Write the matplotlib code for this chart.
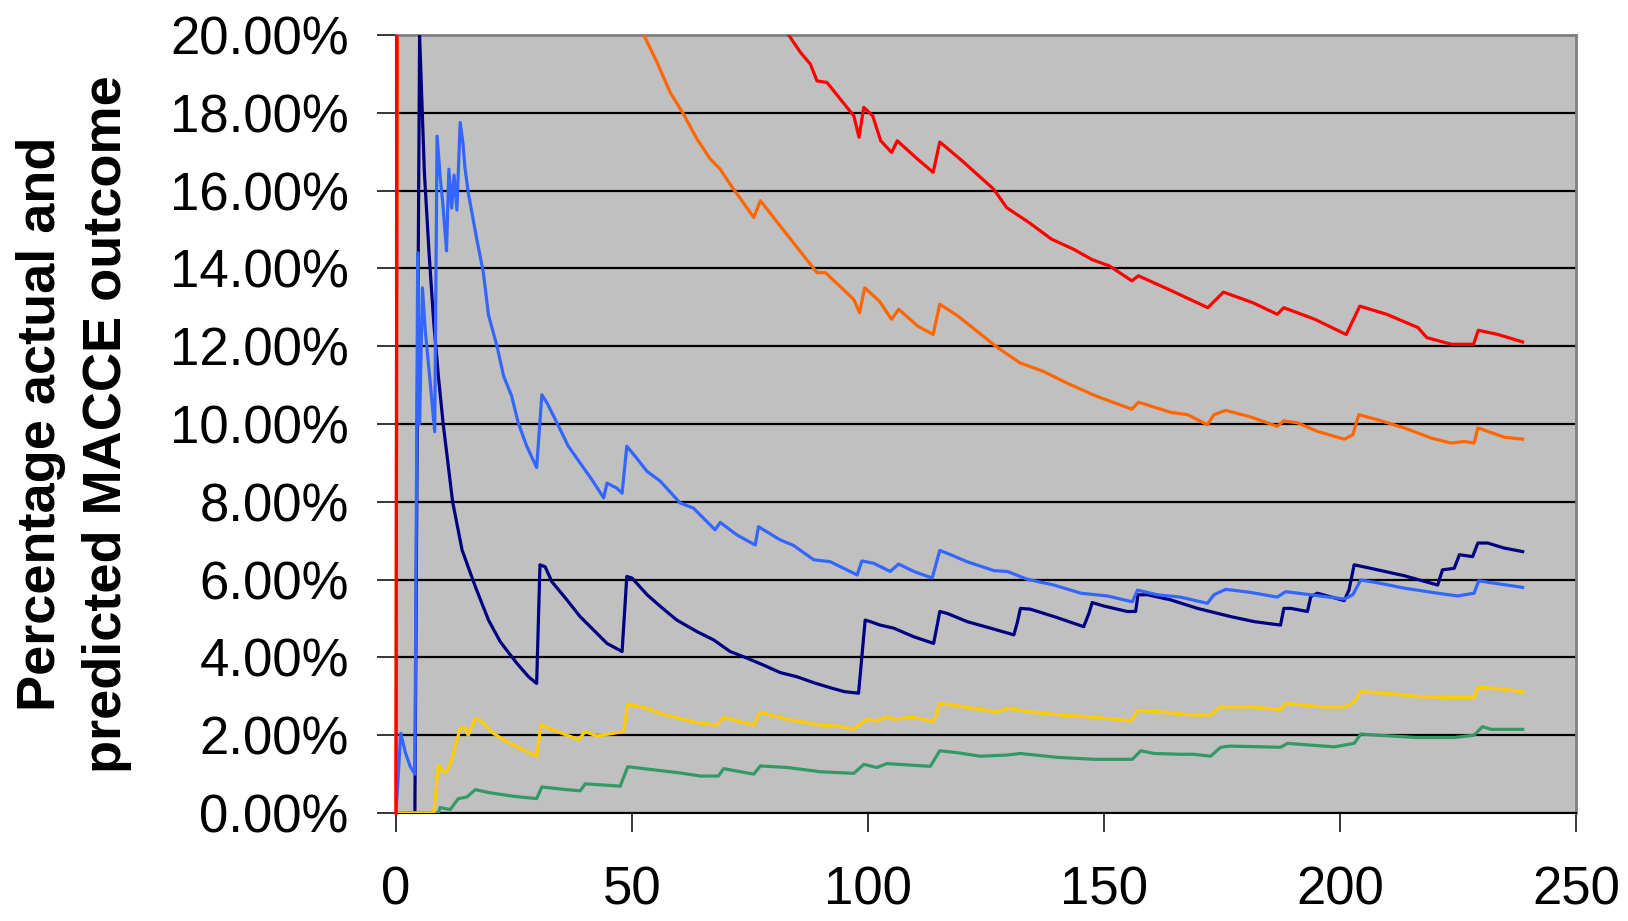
import numpy as np
import matplotlib
matplotlib.use("Agg")
import matplotlib.pyplot as plt
from matplotlib.ticker import FuncFormatter
from matplotlib.patches import Rectangle

plt.rcParams['font.family'] = ['Liberation Sans', 'DejaVu Sans']

# Cumulative number of procedures (x) and percentage MACCE (y) for each series
red_x = [0, 1, 3, 8, 15, 25, 40, 55, 70, 83.2, 85.7, 87.8, 89.2, 91.3, 97.0, 98.1, 99.1, 101.0,
         102.7, 105.0, 106.2, 110.5, 113.8, 115.2, 119.9, 126.6, 129.4, 134.1, 138.9, 143.6, 147.4,
         151.2, 155.9, 157.3, 164.4, 172.0, 175.3, 181.5, 186.7, 188.1, 194.7, 201.3, 204.2, 209.9,
         216.5, 218.4, 223.6, 228.3, 229.3, 233.5, 238.7]
red_y = [0, 100, 55, 40, 33, 28.5, 25, 22.8, 21.2, 20.0, 19.55, 19.25, 18.82, 18.78, 17.92, 17.37,
         18.14, 17.92, 17.28, 16.98, 17.28, 16.81, 16.47, 17.25, 16.77, 16.04, 15.56, 15.18, 14.75,
         14.49, 14.23, 14.06, 13.68, 13.81, 13.42, 12.99, 13.39, 13.12, 12.82, 12.99, 12.69, 12.30,
         13.03, 12.82, 12.48, 12.22, 12.05, 12.05, 12.41, 12.30, 12.11]

orange_x = [0, 1, 3, 8, 15, 25, 35, 45, 52.5, 55.3, 58.1, 60.9, 63.8, 66.6, 68.7, 70.8, 75.8, 77.2,
            81.4, 89.2, 91.0, 97.0, 98.2, 99.3, 102.4, 105.0, 106.5, 110.5, 113.8, 115.2, 119.0,
            127.5, 132.2, 137.0, 142.7, 148.3, 155.9, 157.3, 164.1, 167.7, 171.9, 173.3, 175.8,
            181.1, 186.7, 188.1, 191.0, 195.2, 200.9, 202.7, 204.0, 207.9, 213.6, 219.3, 223.5,
            226.3, 228.4, 229.2, 232.0, 234.8, 238.7]
orange_y = [0, 80, 45, 32, 27, 24, 22.4, 21.1, 20.0, 19.30, 18.52, 17.97, 17.32, 16.81, 16.55, 16.16,
            15.31, 15.74, 15.09, 13.89, 13.89, 13.20, 12.86, 13.50, 13.16, 12.69, 12.95, 12.52,
            12.30, 13.08, 12.78, 11.96, 11.57, 11.36, 11.02, 10.72, 10.38, 10.56, 10.30, 10.24,
            9.98, 10.24, 10.35, 10.18, 9.94, 10.08, 10.03, 9.81, 9.61, 9.72, 10.24, 10.11, 9.90,
            9.64, 9.51, 9.55, 9.51, 9.90, 9.78, 9.66, 9.61]

navy_x = [0, 4, 5, 6, 7, 8, 9, 10, 11, 12, 14, 16.8, 19.6, 22.1, 25.6, 28.1, 29.8, 30.5, 31.6, 33.0,
          36.2, 39.0, 44.7, 47.9, 48.9, 50.0, 53.2, 56.3, 59.5, 63.8, 67.3, 70.8, 74.4, 77.9, 81.4,
          85.0, 88.5, 92.3, 95.0, 98.0, 98.7, 99.4, 100.5, 102.6, 105.5, 109.7, 113.9, 114.6,
          115.2, 116.8, 121.0, 126.0, 130.9, 131.6, 132.3, 134.4, 139.4, 145.7, 146.8, 147.5,
          150.0, 154.9, 156.7, 157.2, 159.2, 164.1, 169.8, 176.8, 181.8, 187.4, 188.1, 189.6,
          193.1, 193.8, 195.2, 200.9, 201.9, 203.0, 206.5, 213.6, 220.7, 221.7, 224.2, 225.3,
          228.1, 229.2, 231.3, 234.8, 238.7]
navy_y = [0, 0, 20.0, 16.5, 14.4, 12.6, 11.2, 10.0, 9.0, 8.0, 6.76, 5.82, 4.96, 4.40, 3.85, 3.50,
          3.33, 6.38, 6.33, 5.95, 5.48, 5.05, 4.36, 4.15, 6.08, 6.04, 5.61, 5.28, 4.96, 4.66, 4.45,
          4.15, 3.98, 3.80, 3.61, 3.50, 3.35, 3.21, 3.12, 3.08, 4.02, 4.96, 4.92, 4.83, 4.75, 4.53,
          4.36, 4.79, 5.18, 5.13, 4.92, 4.75, 4.58, 4.88, 5.26, 5.24, 5.05, 4.79, 5.13, 5.41, 5.32,
          5.18, 5.18, 5.61, 5.61, 5.48, 5.26, 5.05, 4.92, 4.83, 5.26, 5.26, 5.18, 5.56, 5.65, 5.46,
          5.73, 6.38, 6.29, 6.10, 5.86, 6.25, 6.29, 6.64, 6.59, 6.94, 6.94, 6.81, 6.72]

blue_x = [0, 1, 2, 3, 4, 4.6, 5.0, 5.6, 6.2, 7.3, 8.2, 8.7, 9.4, 9.9, 10.7, 11.2, 11.8, 12.3, 12.9,
          13.6, 14.2, 14.6, 15.3, 17.1, 18.5, 19.6, 21.4, 22.8, 24.5, 25.9, 27.7, 29.8, 30.9, 32.0,
          34.1, 36.5, 39.0, 41.5, 44.0, 44.7, 46.8, 47.9, 48.9, 51.0, 53.2, 56.0, 60.2, 63.0, 67.6,
          68.7, 72.2, 76.1, 76.8, 81.4, 84.2, 88.5, 92.0, 97.7, 98.7, 101.2, 104.7, 106.5, 109.7,
          113.6, 115.2, 117.5, 121.0, 126.7, 129.5, 133.7, 139.4, 145.1, 150.7, 156.0, 157.1,
          161.3, 166.2, 171.9, 173.3, 175.8, 181.1, 186.7, 188.5, 193.8, 200.9, 202.7, 204.4,
          207.9, 213.6, 220.7, 224.9, 228.4, 229.4, 232.0, 238.7]
blue_y = [0, 2.05, 1.55, 1.2, 1.0, 14.4, 10.0, 13.5, 12.4, 11.0, 9.8, 17.4, 16.3, 15.7, 14.45, 16.55,
          15.55, 16.4, 15.5, 17.75, 17.2, 16.6, 15.95, 14.76, 13.9, 12.8, 12.0, 11.23, 10.72, 10.03,
          9.43, 8.88, 10.75, 10.54, 10.03, 9.43, 9.0, 8.57, 8.10, 8.48, 8.35, 8.22, 9.43, 9.12,
          8.78, 8.53, 7.97, 7.84, 7.28, 7.47, 7.15, 6.89, 7.36, 7.02, 6.88, 6.51, 6.46, 6.12, 6.48,
          6.42, 6.21, 6.40, 6.21, 6.04, 6.75, 6.64, 6.46, 6.23, 6.21, 6.01, 5.86, 5.65, 5.58, 5.43,
          5.73, 5.61, 5.55, 5.39, 5.61, 5.75, 5.67, 5.55, 5.69, 5.61, 5.50, 5.61, 5.99, 5.92, 5.78,
          5.65, 5.58, 5.65, 5.97, 5.92, 5.80]

yellow_x = [0, 8, 9, 10, 10.8, 11.8, 13.6, 14.5, 15.3, 16.8, 17.8, 20.6, 23.5, 27.0, 29.8, 30.7,
            33.4, 36.2, 38.7, 40.1, 42.6, 46.1, 48.2, 49.1, 53.2, 56.0, 60.2, 63.8, 68.0, 69.4,
            75.8, 77.2, 82.9, 89.9, 94.1, 96.9, 99.8, 101.9, 104.0, 105.5, 109.7, 113.9, 115.2,
            118.2, 123.8, 127.4, 129.8, 134.4, 140.8, 147.9, 155.7, 157.1, 162.1, 168.4, 172.6,
            174.7, 181.1, 187.4, 188.5, 195.9, 201.2, 203.0, 204.4, 209.4, 217.1, 222.8, 228.4,
            229.2, 233.4, 238.7]
yellow_y = [0, 0, 1.23, 1.06, 1.06, 1.36, 2.18, 2.2, 2.0, 2.43, 2.39, 2.05, 1.83, 1.62, 1.46, 2.26,
            2.13, 2.0, 1.89, 2.09, 1.98, 2.05, 2.09, 2.80, 2.69, 2.56, 2.43, 2.32, 2.26, 2.46, 2.26,
            2.59, 2.41, 2.26, 2.23, 2.15, 2.41, 2.37, 2.47, 2.41, 2.46, 2.35, 2.82, 2.77, 2.66,
            2.60, 2.69, 2.60, 2.52, 2.46, 2.37, 2.63, 2.60, 2.52, 2.52, 2.73, 2.73, 2.66, 2.82,
            2.73, 2.73, 2.86, 3.12, 3.08, 2.99, 2.97, 2.97, 3.23, 3.20, 3.12]

green_x = [0, 9, 9.3, 11.5, 13.2, 15.0, 16.8, 19.9, 24.9, 29.8, 30.9, 36.2, 39.0, 40.1, 47.5, 49.1,
           55.3, 60.2, 64.5, 68.3, 69.4, 75.8, 77.2, 82.9, 89.9, 97.0, 99.1, 101.9, 104.0, 113.2,
           115.2, 118.9, 123.8, 129.5, 132.3, 140.1, 147.9, 156.0, 157.8, 160.6, 166.2, 169.0,
           172.6, 174.7, 176.8, 187.4, 188.9, 198.8, 203.0, 204.4, 207.9, 216.4, 224.2, 228.4,
           230.2, 232.0, 238.7]
green_y = [0, 0, 0.14, 0.09, 0.37, 0.41, 0.60, 0.52, 0.43, 0.37, 0.67, 0.60, 0.57, 0.75, 0.69, 1.19,
           1.10, 1.03, 0.95, 0.95, 1.14, 1.0, 1.21, 1.17, 1.06, 1.02, 1.25, 1.17, 1.27, 1.20, 1.60,
           1.55, 1.46, 1.49, 1.53, 1.43, 1.38, 1.38, 1.60, 1.53, 1.51, 1.51, 1.46, 1.69, 1.72,
           1.69, 1.79, 1.70, 1.79, 2.03, 2.00, 1.94, 1.94, 2.00, 2.22, 2.15, 2.15]

x_ticks = [0, 50, 100, 150, 200, 250]
y_ticks = [0, 2, 4, 6, 8, 10, 12, 14, 16, 18, 20]
y_label = "Percentage actual and\npredicted MACCE outcome"

fig = plt.figure(figsize=(16.28, 9.21), dpi=100)
ax = fig.add_axes([396 / 1628, 108 / 921, 1180 / 1628, 778 / 921])
ax.set_facecolor('#C0C0C0')

lw = 2.3
ax.plot(navy_x, navy_y, color='#000080', lw=lw, zorder=3)
ax.plot(blue_x, blue_y, color='#3366FF', lw=lw, zorder=3)
ax.plot(green_x, green_y, color='#339966', lw=lw, zorder=3)
ax.plot(yellow_x, yellow_y, color='#FFCC00', lw=lw, zorder=3)
orange_line, = ax.plot(orange_x, orange_y, color='#FF6600', lw=lw, zorder=3)
red_line, = ax.plot(red_x, red_y, color='#FF0000', lw=lw, zorder=3)

# let the upper curves show their full width along the left edge while
# still being cut at the top of the plot area
for ln in (orange_line, red_line):
    clip = Rectangle((-1.0, -1.0), 251.0, 21.0, transform=ax.transData)
    ln.set_clip_path(clip)

ax.set_xlim(0, 250)
ax.set_ylim(0, 20)
ax.set_xticks(x_ticks)
ax.set_yticks(y_ticks)
ax.yaxis.set_major_formatter(FuncFormatter(lambda v, p: f"{v:.2f}%"))
ax.xaxis.set_major_formatter(FuncFormatter(lambda v, p: f"{v:g}"))

ax.grid(axis='y', color='black', lw=1.6)
ax.grid(axis='x', visible=False)
ax.set_axisbelow(True)

for side in ('left', 'bottom'):
    ax.spines[side].set_color('black')
    ax.spines[side].set_linewidth(1.5)
for side in ('top', 'right'):
    ax.spines[side].set_color('#808080')
    ax.spines[side].set_linewidth(2.0)

ax.tick_params(axis='both', direction='out', length=14, width=1.1, labelsize=38, colors='black')
ax.tick_params(axis='x', pad=24)
ax.tick_params(axis='y', pad=20)

ax.set_ylabel(y_label, fontsize=39, fontweight='bold', linespacing=1.4)
ax.yaxis.set_label_coords(-0.2237, 0.5)

fig.savefig('out.png', dpi=100, facecolor='white')
